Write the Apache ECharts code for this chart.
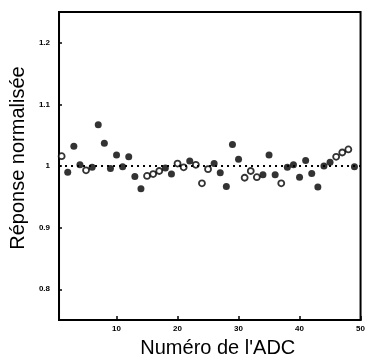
<!DOCTYPE html>
<html>
<head>
<meta charset="utf-8">
<script src="https://cdn.jsdelivr.net/npm/echarts@6/dist/echarts.min.js"></script>
<style>html,body{margin:0;padding:0;background:#fff}#c{width:368px;height:363px}</style>
</head>
<body>
<div id="c"></div>
<script>
var adc = [1,2,3,4,5,6,7,8,9,10,11,12,13,14,15,16,17,18,19,20,21,22,23,24,25,26,27,28,29,30,31,32,33,34,35,36,37,38,39,40,41,42,43,44,45,46,47,48,49];
var response = [1.016,0.990,1.032,1.002,0.993,0.998,1.067,1.037,0.996,1.018,0.999,1.015,0.983,0.963,0.984,0.987,0.992,0.997,0.987,1.004,0.998,1.008,1.002,0.972,0.995,1.004,0.989,0.967,1.035,1.011,0.981,0.992,0.982,0.986,1.018,0.986,0.972,0.998,1.002,0.982,1.009,0.988,0.966,1.000,1.006,1.015,1.022,1.027,0.999];
var openAdc = [1,5,15,16,17,20,21,23,24,25,31,32,33,37,46,47,48];
var xTicks = [10,20,30,40,50];
var yTicks = [0.8,0.9,1,1.1,1.2];
var yTickLabels = ['0.8','0.9','1','1.1','1.2'];

var filled = [], open = [];
adc.forEach(function(n,i){
  if (openAdc.indexOf(n) >= 0) open.push([n,response[i]]);
  else filled.push([n,response[i]]);
});

var chart = echarts.init(document.getElementById('c'));
chart.setOption({
  animation:false,
  grid:{left:56,right:3,top:12,bottom:34,show:true,borderColor:'#000',borderWidth:2},
  xAxis:{
    type:'value',min:0.57,max:50,
    name:"Numéro de l'ADC",nameLocation:'middle',nameGap:12,
    nameTextStyle:{fontFamily:'Liberation Sans',fontSize:20,color:'#000',padding:[0,0,0,16]},
    axisLine:{show:true,lineStyle:{color:'#000',width:2}},
    axisTick:{show:true,inside:true,length:4,lineStyle:{color:'#000',width:1.5},customValues:xTicks},
    axisLabel:{customValues:xTicks,fontSize:8,fontWeight:'bold',color:'#000',margin:5,fontFamily:'Liberation Sans'},
    splitLine:{show:false}
  },
  yAxis:{
    type:'value',min:0.75,max:1.25,
    name:'Réponse normalisée',nameLocation:'middle',nameGap:30,nameRotate:90,
    nameTextStyle:{fontFamily:'Liberation Sans',fontSize:20,color:'#000',padding:[0,0,0,16]},
    axisLine:{show:true,lineStyle:{color:'#000',width:2}},
    axisTick:{show:true,inside:true,length:3,lineStyle:{color:'#000',width:1.5},customValues:yTicks},
    axisLabel:{customValues:yTicks,fontSize:8,fontWeight:'bold',color:'#000',margin:9,fontFamily:'Liberation Sans',
      formatter:function(v){var i=yTicks.indexOf(v);return i>=0?yTickLabels[i]:'';}},
    splitLine:{show:false}
  },
  series:[
    {type:'scatter',data:filled,symbol:'circle',symbolSize:7,itemStyle:{color:'#000'},
     markLine:{silent:true,symbol:'none',label:{show:false},
       lineStyle:{color:'#000',type:[2,4],width:2},data:[{yAxis:1}]}},
    {type:'scatter',data:open,symbol:'circle',symbolSize:6,itemStyle:{color:'#fff',borderColor:'#000',borderWidth:1.8}}
  ]
});
</script>
</body>
</html>
